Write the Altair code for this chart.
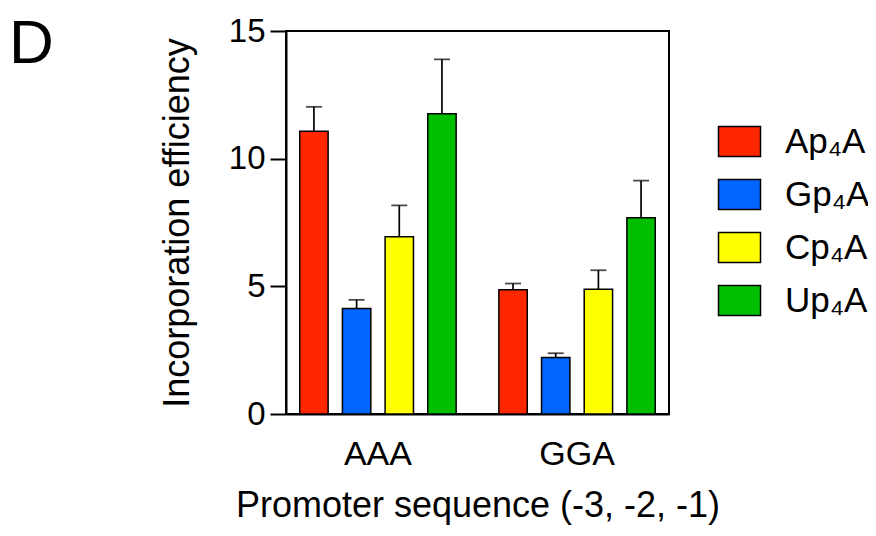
import altair as alt
import pandas as pd

groups = ["AAA", "GGA"]
series = ["Ap₄A", "Gp₄A", "Cp₄A", "Up₄A"]
colors = ["#FF2600", "#0066FF", "#FFFF00", "#00BF00"]

aaa_means = [11.07, 4.13, 6.94, 11.76]
aaa_errs = [0.96, 0.34, 1.23, 2.13]
gga_means = [4.87, 2.21, 4.89, 7.69]
gga_errs = [0.24, 0.17, 0.74, 1.45]

y_ticks = [0, 5, 10, 15]

rows = []
for g, means, errs in [("AAA", aaa_means, aaa_errs), ("GGA", gga_means, gga_errs)]:
    for s, m, e in zip(series, means, errs):
        rows.append({"group": g, "series": s, "mean": m, "upper": m + e})
df = pd.DataFrame(rows)

FONT = "Liberation Sans"

x_enc = alt.X("group:N", sort=groups,
              scale=alt.Scale(paddingInner=0.2145, paddingOuter=0.069),
              axis=alt.Axis(title="Promoter sequence (-3, -2, -1)", labelAngle=0,
                            ticks=False, tickSize=0, labelPadding=23,
                            labelFontSize=34, titleFontSize=36, titlePadding=17,
                            domainWidth=2, domainColor="black"))
xo_enc = alt.XOffset("series:N", sort=series,
                     scale=alt.Scale(paddingInner=0.335, paddingOuter=0))

base = alt.Chart(df)

bars = base.mark_bar(stroke="black", strokeWidth=1.5).encode(
    x=x_enc,
    xOffset=xo_enc,
    y=alt.Y("mean:Q", scale=alt.Scale(domain=[0, 15], nice=False),
            axis=alt.Axis(title="Incorporation efficiency", values=y_ticks,
                          tickSize=16, tickWidth=2, tickColor="black",
                          labelPadding=5, labelFontSize=33,
                          titleFontSize=36, titlePadding=32,
                          domainWidth=2, domainColor="black", grid=False)),
    fill=alt.Fill("series:N", sort=series,
                  scale=alt.Scale(domain=series, range=colors),
                  legend=alt.Legend(title=None, orient="none", legendX=436, legendY=93,
                                    symbolType="M-1.4,-1H1.4V1H-1.4Z", symbolSize=900,
                                    symbolStrokeColor="black", symbolStrokeWidth=1.5,
                                    labelFontSize=35, labelOffset=28, rowPadding=16,
                                    labelFont=FONT, padding=0)),
)

err = base.mark_rule(color="black", strokeWidth=1.7).encode(
    x=alt.X("group:N", sort=groups),
    xOffset=alt.XOffset("series:N", sort=series),
    y="mean:Q",
    y2="upper:Q",
)

caps = base.mark_tick(color="black", thickness=1.8, size=16, orient="horizontal").encode(
    x=alt.X("group:N", sort=groups),
    xOffset=alt.XOffset("series:N", sort=series),
    y="upper:Q",
)

label = alt.Chart(pd.DataFrame({"t": ["D"]})).mark_text(
    fontSize=62, font=FONT, align="left", baseline="alphabetic", color="black"
).encode(text="t:N", x=alt.value(-277), y=alt.value(32))

chart = alt.layer(bars, err, caps, label).properties(
    width=383, height=383,
    autosize=alt.AutoSizeParams(type="none"),
    padding={"left": 278, "top": 23, "right": 199, "bottom": 114},
).configure_view(
    stroke="black", strokeWidth=2
).configure_axis(
    labelFont=FONT, titleFont=FONT, labelColor="black", titleColor="black",
    titleFontWeight="normal"
).configure_legend(
    labelFont=FONT, labelColor="black"
)

chart.save("out.html", embed_options={"renderer": "svg", "actions": False})
